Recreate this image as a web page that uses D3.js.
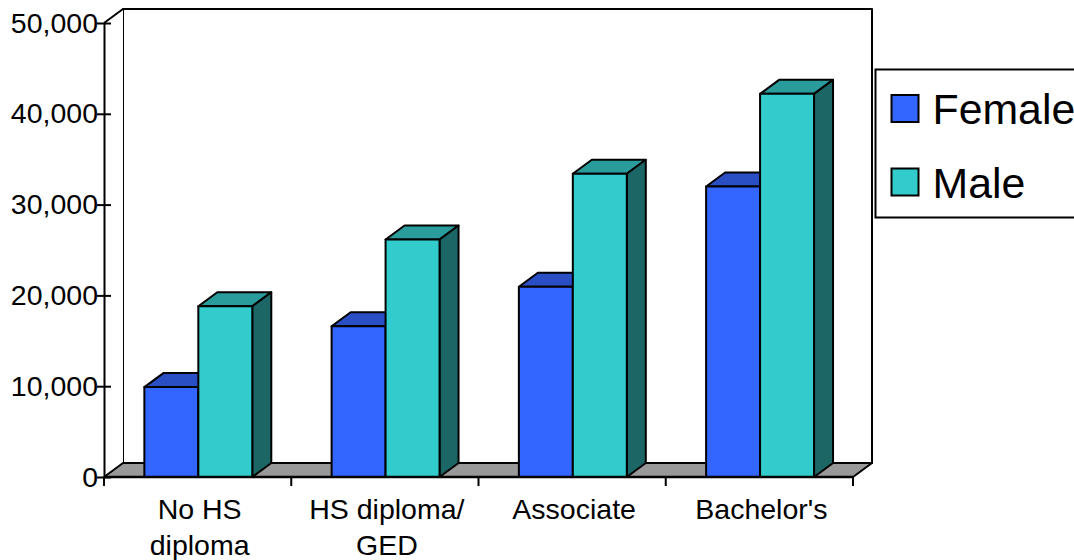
<!DOCTYPE html>
<html><head><meta charset="utf-8">
<script src="https://cdn.jsdelivr.net/npm/d3@7"></script>
<style>html,body{margin:0;padding:0;background:#fff;overflow:hidden}svg{display:block}text{font-family:"Liberation Sans",Arial,sans-serif;fill:#000}</style>
</head><body><svg id="c" width="1074" height="560"></svg>
<script>
const categories = [["No HS","diploma"],["HS diploma/","GED"],["Associate"],["Bachelor's"]];
const seriesNames = ["Female","Male"];
const female = [9900,16600,20950,32000];
const male = [18800,26150,33400,42200];
const yTicks = [0,10000,20000,30000,40000,50000];
const front = {Female:"#3366ff",Male:"#33cccc"}, top_ = {Female:"#2a4fc4",Male:"#2a9c9c"}, side = {Female:"#1f3d99",Male:"#1c6666"};
const svg = d3.select("#c");
const x = d3.scaleBand().domain(d3.range(categories.length)).range([104,853]);
const xs = d3.scaleBand().domain(seriesNames).range([0.7,x.bandwidth()+0.7]).paddingInner(0).paddingOuter(0.735);
const y = d3.scaleLinear().domain([0,50000]).range([477,23]);
const dx=19, dy=-14, lw=2;
const poly=(pts,fill)=>svg.append("polygon").attr("points",pts.map(p=>p.join(",")).join(" ")).attr("fill",fill).attr("stroke","#000").attr("stroke-width",lw).attr("stroke-linejoin","round");
const line=(a,b,c,d,w=lw)=>svg.append("line").attr("x1",a).attr("y1",b).attr("x2",c).attr("y2",d).attr("stroke","#000").attr("stroke-width",w);
// walls and floor
const x0=x.range()[0], x1=x.range()[1], yb=y(0), yt=y(50000);
poly([[x0+dx,yb+dy],[x0+dx,yt+dy],[x1+dx,yt+dy],[x1+dx,yb+dy]],"#fff");
poly([[x0,yb],[x0+dx,yb+dy],[x0+dx,yt+dy],[x0,yt]],"#fff").attr("stroke","none");
line(x0,yt,x0+dx,yt+dy);
poly([[x0,yb],[x0+dx,yb+dy],[x1+dx,yb+dy],[x1,yb]],"#999999");
// axes
const yAxis=svg.append("g").attr("transform",`translate(${x0},0)`).call(d3.axisLeft(y).tickValues(yTicks).tickFormat(d3.format(",")).tickSize(0).tickPadding(6));
yAxis.select(".domain").attr("stroke","#000").attr("stroke-width",lw);
yAxis.selectAll("text").attr("font-size",28.5).attr("fill","#000").attr("font-family",'"Liberation Sans",Arial,sans-serif');
yAxis.selectAll(".tick line").attr("x1",-7).attr("x2",7).attr("stroke","#000").attr("stroke-width",lw).attr("stroke-opacity",1);
const xTickVals=d3.range(categories.length).map(x).concat([x1]);
xTickVals.forEach(v=>line(v,yb,v,yb+9));
// bars
categories.forEach((c,i)=>{
  [["Female",female[i]],["Male",male[i]]].forEach(([s,v])=>{
    const l=x(i)+xs(s), r=l+xs.bandwidth(), t=y(v);
    poly([[l,t],[l+dx,t+dy],[r+dx,t+dy],[r,t]],top_[s]);
    poly([[r,t],[r+dx,t+dy],[r+dx,yb+dy],[r,yb]],side[s]);
    poly([[l,yb],[l,t],[r,t],[r,yb]],front[s]);
  });
  const tx=svg.append("text").attr("text-anchor","middle").attr("font-size",28.5);
  c.forEach((ln,k)=>tx.append("tspan").attr("x",x(i)+x.bandwidth()/2+2).attr("y",519+k*36).text(ln));
});
line(x0,yb,x1,yb,2.5);
// legend
svg.append("rect").attr("x",875.5).attr("y",69.5).attr("width",230).attr("height",148).attr("fill","#fff").attr("stroke","#000").attr("stroke-width",lw);
seriesNames.forEach((s,i)=>{
  const yy=95+i*73.5;
  svg.append("rect").attr("x",891.5).attr("y",yy).attr("width",27).attr("height",27).attr("fill",front[s]).attr("stroke","#000").attr("stroke-width",lw);
  svg.append("text").attr("x",932.5).attr("y",yy+29).attr("font-size",42.8).text(s);
});
</script></body></html>
